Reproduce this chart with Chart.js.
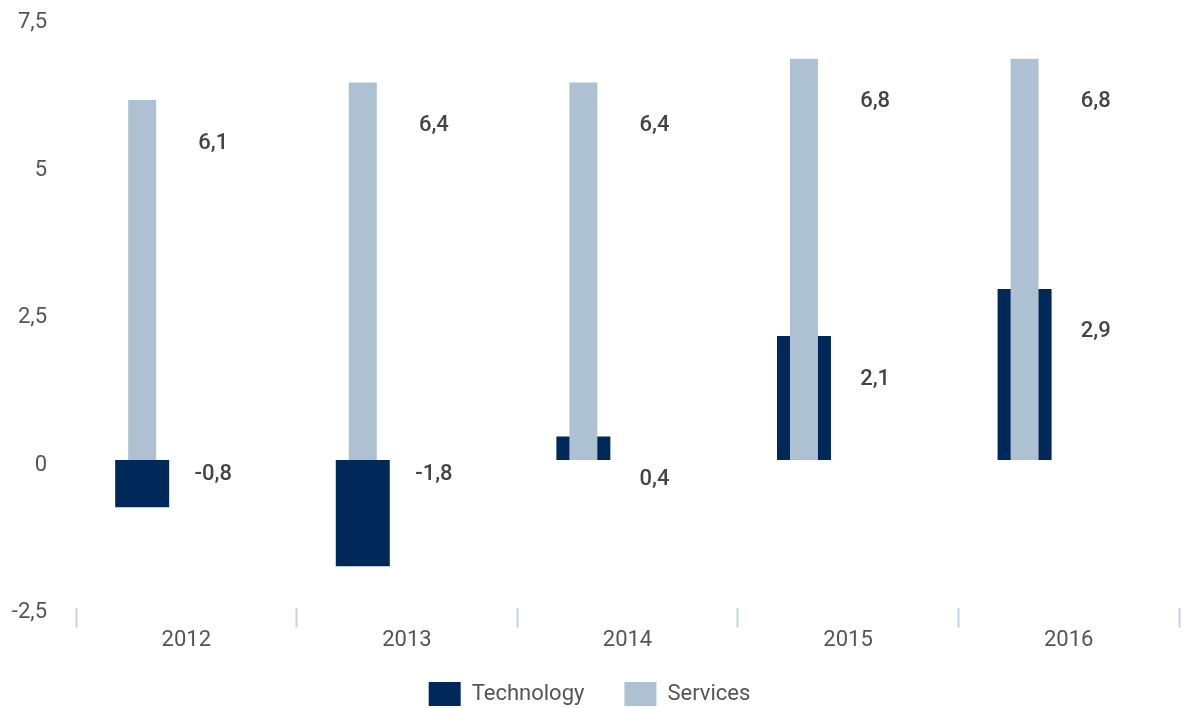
<!DOCTYPE html>
<html>
<head>
<meta charset="utf-8">
<script src="https://cdn.jsdelivr.net/npm/chart.js@4.4.0/dist/chart.umd.min.js"></script>
<style>
    html, body { margin: 0; padding: 0; background: #fff; }
    #wrap { width: 1182px; height: 708px; }
</style>
</head>
<body>
<div id="wrap"><canvas id="mainChart"></canvas></div>
<script>
// Chart data
const years = ['2012', '2013', '2014', '2015', '2016'];
const technology = [-0.8, -1.8, 0.4, 2.1, 2.9];
const services = [6.1, 6.4, 6.4, 6.8, 6.8];
const yTicks = [-2.5, 0, 2.5, 5, 7.5];

const navy = '#00295a';
const grey = '#adc1d2';
const fontFamily = 'Roboto, "Noto Sans", sans-serif';

// 7.5 -> "7,5"
function fmt(v) {
    return String(v).replace('.', ',');
}

// Value labels to the right of each pair of bars
const valueLabels = {
    id: 'valueLabels',
    afterDatasetsDraw(chart) {
        const ctx = chart.ctx;
        const xs = chart.scales.x;
        const ys = chart.scales.y;
        ctx.save();
        ctx.font = '500 22px ' + fontFamily;
        ctx.fillStyle = '#444';
        ctx.textAlign = 'center';
        ctx.textBaseline = 'middle';
        [technology, services].forEach(series => {
            series.forEach((v, i) => {
                const px = xs.getPixelForValue(i) + 27;
                const py = v >= 0 ? ys.getPixelForValue(v) + 43 : ys.getPixelForValue(0) + 14;
                ctx.fillText(fmt(v), px, py);
            });
        });
        ctx.restore();
    }
};

// Legend: fixed height, then its top pulled up so boxes sit near the bottom edge
const legendPlace = {
    id: 'legendPlace',
    beforeInit(chart) {
        const fit = chart.legend.fit;
        chart.legend.fit = function () {
            fit.bind(chart.legend)();
            this.height = 50.5;
        };
    },
    afterLayout(chart) {
        chart.legend.top -= 15.5;
        chart.legend.height += 15.5;
    }
};

new Chart(document.getElementById('mainChart'), {
    type: 'bar',
    data: {
        labels: years,
        datasets: [{
            label: 'Technology',
            data: technology,
            backgroundColor: navy,
            borderWidth: 0,
            stack: 'pair',
            order: 1,
            barPercentage: 0.612
        }, {
            label: 'Services',
            data: services,
            backgroundColor: grey,
            borderWidth: 0,
            stack: 'pair',
            order: 0,
            barPercentage: 0.317
        }, {
            // empty slot that pushes the bar pair left of centre
            label: '',
            data: years.map(() => 0),
            backgroundColor: 'rgba(0,0,0,0)',
            borderWidth: 0,
            stack: 'spacer',
            order: 2
        }]
    },
    options: {
        responsive: true,
        maintainAspectRatio: false,
        animation: false,
        layout: { padding: { top: 17.5, right: 3, left: 0, bottom: 0 } },
        plugins: {
            tooltip: { enabled: false },
            legend: {
                position: 'bottom',
                labels: {
                    boxWidth: 32,
                    boxHeight: 24,
                    padding: 40,
                    color: '#555',
                    font: { family: fontFamily, size: 22 },
                    filter: item => item.text !== '',
                    sort: (a, b) => a.datasetIndex - b.datasetIndex
                }
            }
        },
        scales: {
            x: {
                categoryPercentage: 0.8,
                border: { display: false },
                grid: {
                    offset: true,
                    drawOnChartArea: false,
                    drawTicks: true,
                    tickLength: 20,
                    tickColor: '#c3d3e7',
                    tickWidth: 2
                },
                ticks: {
                    padding: 0,
                    color: '#555',
                    font: { family: fontFamily, size: 22 }
                },
                afterFit(scale) { scale.height = 50; }
            },
            y: {
                stacked: false,
                min: -2.5,
                max: 7.5,
                border: { display: false },
                grid: { display: false, drawTicks: false },
                afterBuildTicks(scale) {
                    scale.ticks = yTicks.map(v => ({ value: v }));
                },
                ticks: {
                    padding: 29,
                    labelOffset: 5,
                    color: '#555',
                    font: { family: fontFamily, size: 22 },
                    callback: v => fmt(v)
                },
                afterFit(scale) {
                    scale.width = 76;
                    scale.paddingTop = 13;
                    scale.paddingBottom = 13;
                }
            }
        }
    },
    plugins: [valueLabels, legendPlace]
});
</script>
</body>
</html>
